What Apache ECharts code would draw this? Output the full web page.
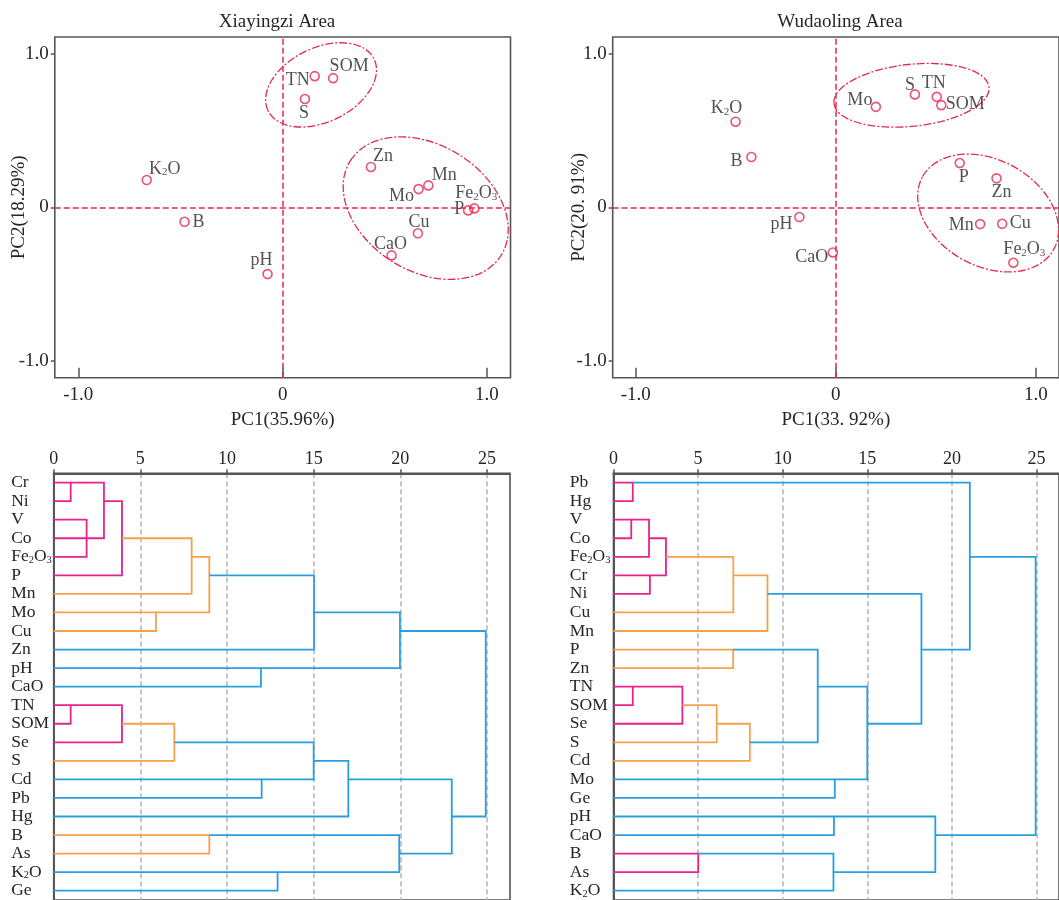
<!DOCTYPE html>
<html>
<head>
<meta charset="utf-8">
<script src="https://cdn.jsdelivr.net/npm/echarts@6/dist/echarts.min.js"></script>
<style>
  html, body { margin: 0; padding: 0; background: #fff; }
  #chart { width: 1059px; height: 900px; }
</style>
</head>
<body>
<div id="chart"></div>
<script>
// ---- PCA loadings: Xiayingzi Area ----
const xyzNames = ['TN', 'SOM', 'S', 'K2O', 'B', 'pH', 'Zn', 'Mo', 'Mn', 'Fe2O3', 'P', 'Cu', 'CaO'];
const xyzPC1 = [0.157, 0.247, 0.109, -0.665, -0.480, -0.074, 0.432, 0.665, 0.713, 0.938, 0.908, 0.662, 0.533];
const xyzPC2 = [0.855, 0.842, 0.706, 0.178, -0.094, -0.435, 0.263, 0.119, 0.143, -0.007, -0.020, -0.169, -0.313];

// ---- PCA loadings: Wudaoling Area ----
const wdlNames = ['K2O', 'B', 'pH', 'CaO', 'Mo', 'S', 'TN', 'SOM', 'P', 'Zn', 'Mn', 'Cu', 'Fe2O3'];
const wdlPC1 = [-0.501, -0.422, -0.182, -0.015, 0.200, 0.395, 0.504, 0.527, 0.619, 0.803, 0.721, 0.831, 0.887];
const wdlPC2 = [0.558, 0.328, -0.063, -0.294, 0.655, 0.736, 0.720, 0.666, 0.289, 0.189, -0.109, -0.107, -0.361];

const pcTicks = [-1, 0, 1];
const pcTickLabels = ['-1.0', '0', '1.0'];

// ---- Hierarchical clustering (rescaled distance) ----
const xyzLeaves = ['Cr', 'Ni', 'V', 'Co', 'Fe2O3', 'P', 'Mn', 'Mo', 'Cu', 'Zn', 'pH', 'CaO',
  'TN', 'SOM', 'Se', 'S', 'Cd', 'Pb', 'Hg', 'B', 'As', 'K2O', 'Ge'];
const wdlLeaves = ['Pb', 'Hg', 'V', 'Co', 'Fe2O3', 'Cr', 'Ni', 'Cu', 'Mn', 'P', 'Zn', 'TN',
  'SOM', 'Se', 'S', 'Cd', 'Mo', 'Ge', 'pH', 'CaO', 'B', 'As', 'K2O'];

// joins: [upper row, upper start, lower row, lower start, join distance, group]
const xyzJoins = [
  [0, 0, 1, 0, 0.98, 0],
  [2, 0, 4, 0, 1.90, 0],
  [0, 0.98, 3, 0, 2.90, 0],
  [1, 2.90, 5, 0, 3.94, 0],
  [3, 3.94, 6, 0, 7.96, 1],
  [7, 0, 8, 0, 5.90, 1],
  [4, 7.96, 7, 5.90, 8.98, 1],
  [5, 8.98, 9, 0, 15.02, 2],
  [10, 0, 11, 0, 11.96, 2],
  [7, 15.02, 10, 11.96, 19.98, 2],
  [12, 0, 13, 0, 0.98, 0],
  [12, 0.98, 14, 0, 3.94, 0],
  [13, 3.94, 15, 0, 6.96, 1],
  [16, 0, 17, 0, 12.00, 2],
  [14, 6.96, 16, 12.00, 15.00, 2],
  [15, 15.00, 18, 0, 17.00, 2],
  [19, 0, 20, 0, 8.98, 1],
  [21, 0, 22, 0, 12.92, 2],
  [19, 8.98, 21, 12.92, 19.94, 2],
  [16, 17.00, 20, 19.94, 22.97, 2],
  [8, 19.98, 18, 22.97, 24.93, 2]
];
const wdlJoins = [
  [0, 0, 1, 0, 1.14, 0],
  [2, 0, 3, 0, 1.05, 0],
  [2, 1.05, 4, 0, 2.10, 0],
  [5, 0, 6, 0, 2.15, 0],
  [3, 2.10, 5, 2.15, 3.10, 0],
  [4, 3.10, 7, 0, 7.08, 1],
  [5, 7.08, 8, 0, 9.10, 1],
  [9, 0, 10, 0, 7.07, 1],
  [11, 0, 12, 0, 1.14, 0],
  [11, 1.14, 13, 0, 4.07, 0],
  [12, 4.07, 14, 0, 6.10, 1],
  [13, 6.10, 15, 0, 8.06, 1],
  [9, 7.07, 14, 8.06, 12.07, 2],
  [16, 0, 17, 0, 13.08, 2],
  [11, 12.07, 16, 13.08, 15.00, 2],
  [6, 9.10, 13, 15.00, 18.20, 2],
  [0, 1.14, 9, 18.20, 21.06, 2],
  [18, 0, 19, 0, 13.03, 2],
  [20, 0, 21, 0, 5.01, 0],
  [20, 5.01, 22, 0, 13.00, 2],
  [18, 13.03, 21, 13.00, 19.02, 2],
  [4, 21.06, 19, 19.02, 24.95, 2]
];
const distTicks = [0, 5, 10, 15, 20, 25];

// ---- styling ----
const FONT = '"Liberation Serif", "Times New Roman", serif';
const TEXT = '#262626';
const RED = '#e42a52';
const FRAME = '#555';
const groupColors = ['#e8238a', '#f5a24b', '#2a9fe0'];

// label placement around each loading point: [dx, dy] of the label centre
const xyzLabelShift = {
  TN: [-17, 4], SOM: [16, -12], S: [-1, 14], K2O: [18, -11], B: [14, 0], pH: [-6, -14],
  Zn: [12, -11], Mo: [-17, 7], Mn: [16, -10], Fe2O3: [2, -15], P: [-9, -1], Cu: [1, -11], CaO: [-1, -11]
};
const wdlLabelShift = {
  K2O: [-9, -13], B: [-15, 4], pH: [-18, 7], CaO: [-21, 5], Mo: [-16, -7], S: [-5, -9],
  TN: [-3, -14], SOM: [24, -1], P: [4, 14], Zn: [5, 14], Mn: [-19, 1], Cu: [18, -1], Fe2O3: [11, -13]
};

// dashed cluster outlines: centre in loading units, half-axes in px, tilt in degrees
const xyzRings = [
  { cx: 0.188, cy: 0.798, rx: 59, ry: 37, tilt: 26 },
  { cx: 0.700, cy: -0.005, rx: 89, ry: 63, tilt: -32 }
];
const wdlRings = [
  { cx: 0.378, cy: 0.730, rx: 78, ry: 31, tilt: 6 },
  { cx: 0.761, cy: -0.037, rx: 75, ry: 53, tilt: -29 }
];

// chemical formulae with subscript digits
const sub = (name) => name.replace(/(\d)/g, '{sub|$1}');
const subRich = (size) => ({
  sub: { fontSize: size, fontFamily: FONT, color: TEXT, verticalAlign: 'bottom', lineHeight: size + 1 }
});

function pcaAxes(idx, xName, yName, yNameGap) {
  const xAxis = {
    type: 'value', gridIndex: idx, min: -1.115, max: 1.115,
    name: xName, nameLocation: 'middle', nameGap: 33, nameMoveOverlap: false,
    nameTextStyle: { fontFamily: FONT, fontSize: 19, color: TEXT },
    axisLine: { show: false, onZero: false },
    axisTick: { show: true, inside: true, length: 10, customValues: pcTicks, lineStyle: { color: FRAME, width: 1.5 } },
    axisLabel: {
      customValues: pcTicks, margin: 8, fontFamily: FONT, fontSize: 19, color: TEXT,
      formatter: (v) => pcTickLabels[pcTicks.indexOf(Math.round(v))]
    },
    splitLine: { show: false }
  };
  const yAxis = {
    type: 'value', gridIndex: idx, min: -1.11, max: 1.11,
    name: yName, nameLocation: 'middle', nameGap: yNameGap, nameMoveOverlap: false,
    nameTextStyle: { fontFamily: FONT, fontSize: 19, color: TEXT },
    axisLine: { show: false, onZero: false },
    axisTick: { show: true, inside: false, length: 4, customValues: pcTicks, lineStyle: { color: FRAME, width: 1.5 } },
    axisLabel: {
      customValues: pcTicks, margin: 6, fontFamily: FONT, fontSize: 19, color: TEXT,
      formatter: (v) => pcTickLabels[pcTicks.indexOf(Math.round(v))]
    },
    splitLine: { show: false }
  };
  return [xAxis, yAxis];
}

function pcaSeries(idx, names, pc1, pc2, shifts, rings) {
  const points = {
    type: 'scatter', xAxisIndex: idx, yAxisIndex: idx, z: 4,
    symbol: 'circle', symbolSize: 9,
    itemStyle: { color: 'rgba(255,255,255,0)', borderColor: RED, borderWidth: 1.6 },
    label: {
      show: true, position: 'inside', fontFamily: FONT, fontSize: 18, color: TEXT,
      formatter: (p) => sub(p.name), rich: subRich(11)
    },
    data: names.map((n, i) => ({ name: n, value: [pc1[i], pc2[i]], label: { offset: shifts[n] } })),
    markLine: {
      silent: true, symbol: 'none', label: { show: false }, animation: false,
      lineStyle: { color: RED, type: [6, 3], width: 1.5 },
      data: [{ xAxis: 0 }, { yAxis: 0 }]
    },
    animation: false
  };
  const outlines = {
    type: 'custom', xAxisIndex: idx, yAxisIndex: idx, z: 3, silent: true, animation: false,
    data: rings.map((r) => [r.cx, r.cy]),
    renderItem: (params, api) => {
      const r = rings[params.dataIndex];
      const c = api.coord([api.value(0), api.value(1)]);
      return {
        type: 'ellipse', x: c[0], y: c[1], rotation: r.tilt * Math.PI / 180,
        shape: { cx: 0, cy: 0, rx: r.rx, ry: r.ry },
        style: { fill: 'none', stroke: RED, lineWidth: 1.3, lineDash: [8, 2, 2, 2] }
      };
    }
  };
  return [outlines, points];
}

function dendroAxes(idx, leaves, labelMargin) {
  const xAxis = {
    type: 'value', gridIndex: idx, position: 'top', min: 0, max: 26.33,
    axisLine: { show: true, onZero: false, lineStyle: { color: FRAME, width: 2 } },
    axisTick: { show: true, inside: false, length: 4, customValues: distTicks, lineStyle: { color: FRAME, width: 1.5 } },
    axisLabel: { customValues: distTicks, margin: 5, fontFamily: FONT, fontSize: 18, color: TEXT },
    splitLine: { show: true, lineStyle: { color: '#b4b4b4', type: [5, 3], width: 1.5 } }
  };
  const yAxis = {
    type: 'category', gridIndex: idx, inverse: true, data: leaves,
    axisLine: { show: true, onZero: false, lineStyle: { color: FRAME, width: 2 } },
    axisTick: { show: false },
    axisLabel: {
      interval: 0, align: 'left', margin: labelMargin, fontFamily: FONT, fontSize: 17.5,
      color: TEXT, lineHeight: 18, formatter: (v) => sub(v), rich: subRich(10.5)
    },
    splitLine: { show: false }
  };
  return [xAxis, yAxis];
}

function dendroSeries(idx, joins) {
  return {
    type: 'custom', xAxisIndex: idx, yAxisIndex: idx, silent: true, animation: false,
    encode: { x: [1, 3, 4], y: [0, 2] },
    data: joins,
    renderItem: (params, api) => {
      const rowA = api.value(0), fromA = api.value(1);
      const rowB = api.value(2), fromB = api.value(3);
      const h = api.value(4);
      const pts = [
        api.coord([fromA, rowA]), api.coord([h, rowA]),
        api.coord([h, rowB]), api.coord([fromB, rowB])
      ];
      return {
        type: 'polyline', shape: { points: pts },
        style: { fill: 'none', stroke: groupColors[api.value(5)], lineWidth: 1.8 }
      };
    }
  };
}

const [ax0, ay0] = pcaAxes(0, 'PC1(35.96%)', 'PC2(18.29%)', 26);
const [ax1, ay1] = pcaAxes(1, 'PC1(33. 92%)', 'PC2(20. 91%)', 24);
const [ax2, ay2] = dendroAxes(2, xyzLeaves, 42.5);
const [ax3, ay3] = dendroAxes(3, wdlLeaves, 43.7);

const frame = { show: true, borderColor: FRAME, borderWidth: 1.6, backgroundColor: 'transparent' };

const option = {
  backgroundColor: '#fff',
  animation: false,
  grid: [
    Object.assign({ left: 54.8, top: 37, width: 455.7, height: 340.7 }, frame),
    Object.assign({ left: 612.7, top: 37, width: 456.4, height: 340.7 }, frame),
    Object.assign({ left: 53.7, top: 473.3, width: 456.3, height: 426.7 }, frame),
    Object.assign({ left: 613.5, top: 473.3, width: 456.3, height: 426.7 }, frame)
  ],
  xAxis: [ax0, ax1, ax2, ax3],
  yAxis: [ay0, ay1, ay2, ay3],
  graphic: [
    { type: 'text', x: 277, y: 22, style: { text: 'Xiayingzi Area', fill: TEXT, font: '19px ' + FONT, textAlign: 'center', textVerticalAlign: 'middle' } },
    { type: 'text', x: 840, y: 22, style: { text: 'Wudaoling Area', fill: TEXT, font: '19px ' + FONT, textAlign: 'center', textVerticalAlign: 'middle' } }
  ],
  series: [
    ...pcaSeries(0, xyzNames, xyzPC1, xyzPC2, xyzLabelShift, xyzRings),
    ...pcaSeries(1, wdlNames, wdlPC1, wdlPC2, wdlLabelShift, wdlRings),
    dendroSeries(2, xyzJoins),
    dendroSeries(3, wdlJoins)
  ]
};

const chart = echarts.init(document.getElementById('chart'));
chart.setOption(option);
</script>
</body>
</html>
